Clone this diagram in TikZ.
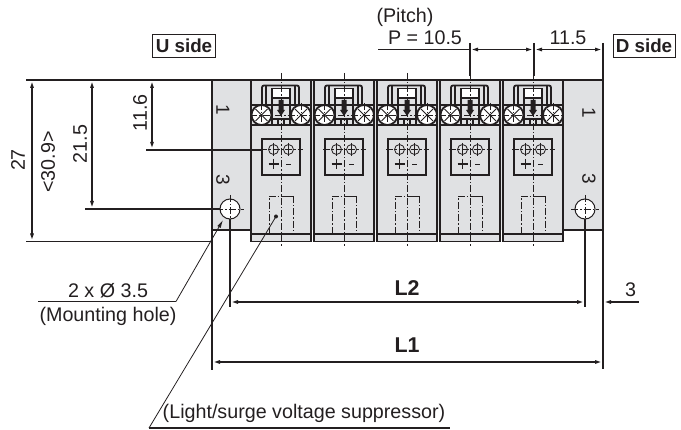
\documentclass[tikz,border=0pt]{standalone}
\usepackage{fontspec}
\setmainfont{Liberation Sans}
\usetikzlibrary{arrows.meta}
\definecolor{platefill}{HTML}{E0E1E3}
\definecolor{inkdark}{HTML}{231F20}
\tikzset{
  dimline/.style={draw=inkdark, line width=1.8pt, {Latex[length=8pt,width=4pt]}-{Latex[length=8pt,width=4pt]}},
  witness/.style={draw=inkdark, line width=1.8pt},
  leader/.style={draw=inkdark, line width=0.8pt},
  outline/.style={draw=inkdark, line width=1.8pt},
  centerline/.style={draw=inkdark, line width=0.6pt, dash pattern=on 7pt off 2pt on 1.5pt off 2pt},
  lbl/.style={text=inkdark, font=\fontsize{19.7}{22}\selectfont, inner sep=0pt},
  bigl/.style={lbl, font=\fontsize{21.4}{22}\selectfont\bfseries},
  sidebox/.style={draw=inkdark, line width=0.8pt, fill=white, inner sep=0pt, minimum height=23.5pt, text=inkdark, font=\fontsize{18.8}{22}\selectfont\bfseries},
  pinlbl/.style={lbl, font=\fontsize{19}{20}\selectfont, rotate=-90}
}
\begin{document}
\begin{tikzpicture}[x=1pt, y=-1pt]
\useasboundingbox (0,0) rectangle (681,430);
% plate
\fill[platefill] (212,80) rectangle (603,230);
\draw[outline] (212,230) -- (251,230); \draw[outline] (564,230) -- (603,230);
\foreach \c in {281,344,407,470,533} {
  \fill[platefill] (\c-30,80) rectangle (\c+30,241.5);
  \draw[outline] (\c-30,80) -- (\c-30,241.5) -- (\c+30,241.5) -- (\c+30,80);
  \draw[outline] (\c-30,234) -- (\c+30,234);
  % connector
  \draw[outline] (\c-30,125) -- (\c+30,125);
  \draw[outline] (\c-30,105) -- (\c+30,105);
  \draw[outline, rounded corners=2pt] (\c-19,105) -- (\c-19,85.5) -- (\c+18,85.5) -- (\c+18,105);
  \draw[outline] (\c-15,105) -- (\c-15,86) (\c+14,105) -- (\c+14,86);
  \draw[outline, fill=white] (\c-9,88.5) rectangle (\c+9,98);
  \draw[outline] (\c-9,98) -- (\c-9,119) -- (\c+9,119) -- (\c+9,98);
  \fill[inkdark] (\c-2.5,100) -- (\c+2.5,100) -- (\c+2.5,110) -- (\c+4,110) -- (\c,116) -- (\c-4,110) -- (\c-2.5,110) -- cycle;
  \foreach \x in {-9,-3,3,9} \draw[outline] (\c+\x,119) -- (\c+\x,125);
  \foreach \x in {-19.5,20} {
    \draw[outline, fill=white] (\c+\x,115) circle (10);
    \draw[line width=0.9pt, inkdark] (\c+\x-6,109) -- (\c+\x+6,121) (\c+\x-6,121) -- (\c+\x+6,109);
    \draw[centerline] (\c+\x,103) -- (\c+\x,127);
  }
  \draw[centerline] (\c-31,115) -- (\c+31,115);
  % indicator
  \draw[outline] (\c-19,139) rectangle (\c+19,175);
  \foreach \x in {-7.5,7.5} {
    \draw[line width=0.8pt, inkdark] (\c+\x,149.5) circle (5);
    \draw[line width=0.6pt, inkdark] (\c+\x,143) -- (\c+\x,156);
  }
  \draw[centerline] (\c-21,149.5) -- (\c+22,149.5);
  \draw[line width=1.8pt, inkdark] (\c-12.5,164) -- (\c-2.5,164) (\c-7.5,159) -- (\c-7.5,169);
  \draw[line width=1.8pt, inkdark] (\c+5,164.5) -- (\c+10,164.5);
  % suppressor
  \draw[centerline] (\c-12,234) -- (\c-12,196) -- (\c,196);
  \draw[line width=0.8pt, inkdark] (\c,196) -- (\c+12,196);
  \draw[centerline] (\c+12,196) -- (\c+12,234);
  \draw[centerline] (\c,73) -- (\c,247);
}
\draw[outline] (212,80) -- (603,80);
\foreach \x/\n in {230/holeL,585/holeR} {
  \draw[line width=1pt, inkdark, fill=white] (\x,209) circle (10);
  \draw[centerline] (\x-14,209) -- (\x+14,209) (\x,195) -- (\x,223);
  \coordinate (\n) at (\x,209);
}
% pin numbers
\node[pinlbl] (oneL) at (223,109.5) {1};
\node[pinlbl] (threeL) at (223,180) {3};
\node[pinlbl] (oneR) at (589,113) {1};
\node[pinlbl] (threeR) at (589,179) {3};
% left dimensions
\coordinate (topA) at (26,80); \coordinate (topB) at (212,80);
\coordinate (botA) at (26,241.5); \coordinate (botB) at (212,241.5);
\coordinate (ledA) at (146,149.8); \coordinate (ledB) at (262,149.8);
\coordinate (holeA) at (85,209); \coordinate (holeB) at (220,209);
\draw[witness] (topA) -- (topB) (botA) -- (botB) (ledA) -- (ledB) (holeA) -- (holeB);
\draw[dimline] (32,80) -- (32,241.5);
\draw[dimline] (92,80) -- (92,209);
\draw[dimline] (152,80) -- (152,149.8);
\node[lbl, rotate=90] (dimTotal) at (18,160) {27};
\node[lbl, rotate=90] (dimOuter) at (48,162) {<30.9>};
\node[lbl, rotate=90] (dimHole) at (80,144) {21.5};
\node[lbl, rotate=90] (dimLed) at (140,113) {11.6};
% pitch
\coordinate (pitchA) at (470,43); \coordinate (pitchB) at (534,43); \coordinate (pitchC) at (603,43);
\draw[witness] (pitchA) -- (470,76) (pitchB) -- (534,76) (pitchC) -- (603,80);
\draw[witness] (378,49.5) -- (470,49.5);
\draw[dimline] (470,49.5) -- (534,49.5);
\draw[dimline] (534,49.5) -- (603,49.5);
\node[lbl] (pitchName) at (405,17) {(Pitch)};
\node[lbl] (pitchVal) at (425,38) {P = 10.5};
\node[lbl] (endVal) at (568,38) {11.5};
\node[sidebox, minimum width=63pt] (uSide) at (184,46) {U side};
\node[sidebox, minimum width=62pt] (dSide) at (644,46) {D side};
% bottom dimensions
\coordinate (l1A) at (212,370); \coordinate (l1B) at (603,369);
\coordinate (l2A) at (230,307); \coordinate (l2B) at (585,307.5);
\draw[witness] (212,80) -- (l1A) (603,80) -- (l1B);
\draw[witness] (holeL) ++(0,10) -- (l2A);
\draw[witness] (holeR) ++(0,10) -- (l2B);
\draw[dimline] (230,302) -- (585,302);
\draw[dimline] (212,362) -- (603,362);
\draw[witness, {Latex[length=8pt,width=4pt]}-] (603,302) -- (639,302);
\node[bigl] (dimLtwo) at (407,288) {L2};
\node[bigl] (dimLone) at (407,345) {L1};
\node[lbl] (dimEnd) at (630.5,290) {3};
% leaders
\coordinate (mountEnd) at (176,301.5); \coordinate (mountStart) at (38,301.5);
\draw[leader, {Latex[length=8pt,width=4pt]}-] (223,220) -- (mountEnd);
\draw[witness] (mountEnd) -- (mountStart);
\node[lbl] (mountVal) at (108,291) {2 x Ø 3.5};
\node[lbl] (mountName) at (108,316) {(Mounting hole)};
\coordinate (supDot) at (276,216.5); \coordinate (supEnd) at (149,428);
\fill[inkdark] (supDot) circle (2);
\draw[leader] (supDot) -- (supEnd);
\draw[witness] (supEnd) -- (450,428);
\node[lbl] (supName) at (304,413) {(Light/surge voltage suppressor)};
\end{tikzpicture}
\end{document}
